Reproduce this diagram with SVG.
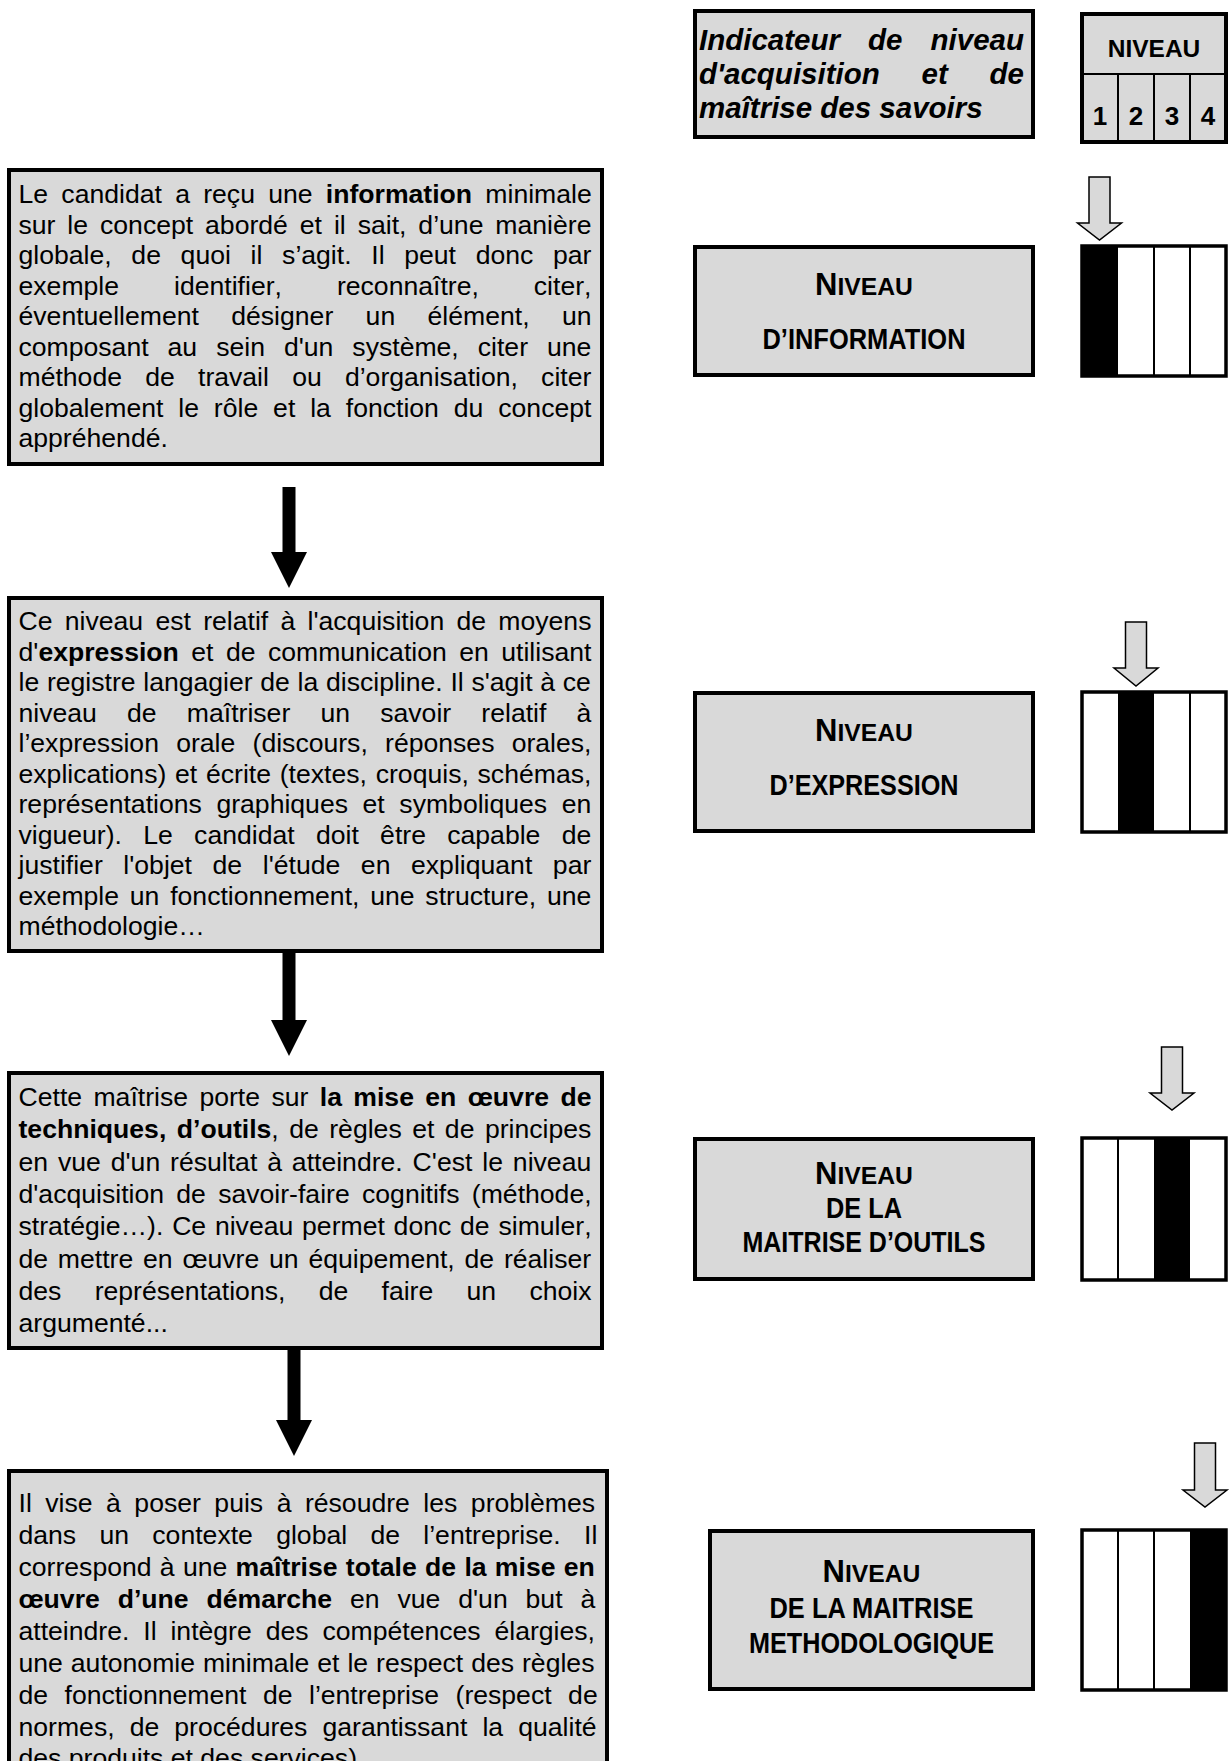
<svg xmlns="http://www.w3.org/2000/svg" width="1230" height="1761" viewBox="0 0 1230 1761">
<style>
.box{fill:#d9d9d9;stroke:#000;stroke-width:4}
.t{font-family:"Liberation Sans",Arial,sans-serif;font-size:26.6px;fill:#000;font-kerning:none}
.b{font-weight:bold}
.ind{font-family:"Liberation Sans",Arial,sans-serif;font-size:29.5px;font-weight:bold;font-style:italic;font-kerning:none}
.lv{font-family:"Liberation Sans",Arial,sans-serif;font-size:29px;font-weight:bold;text-anchor:middle}
.sc{font-size:24.7px}
.big{font-size:31px}
.hd{font-family:"Liberation Sans",Arial,sans-serif;font-size:24.5px;font-weight:bold;text-anchor:middle}
.dg{font-size:26px}
.bar{fill:#fff}
.frame{fill:none;stroke:#000;stroke-width:3.5}
.div{stroke:#000;stroke-width:2}
.blk{fill:#000}
.ga{fill:#d9d9d9;stroke:#000;stroke-width:1.5}
</style>

<g id="indicator">
<rect class="box" x="695" y="11" width="338" height="126"/>
<text class="ind" x="699" y="50" style="word-spacing:19.9px">Indicateur de niveau</text>
<text class="ind" x="699" y="84" style="word-spacing:33.6px">d'acquisition et de</text>
<text class="ind" x="699" y="118">maîtrise des savoirs</text>
</g>

<g id="niveau-table">
<rect class="box" x="1082" y="14" width="144" height="128"/>
<line class="div" x1="1082" y1="74" x2="1226" y2="74"/>
<line class="div" x1="1118" y1="74" x2="1118" y2="142"/>
<line class="div" x1="1154" y1="74" x2="1154" y2="142"/>
<line class="div" x1="1190" y1="74" x2="1190" y2="142"/>
<text class="hd" x="1154" y="57">NIVEAU</text>
<text class="hd dg" x="1100" y="125">1</text>
<text class="hd dg" x="1136" y="125">2</text>
<text class="hd dg" x="1172" y="125">3</text>
<text class="hd dg" x="1208" y="125">4</text>
</g>

<g id="desc1">
<rect class="box" x="9" y="170" width="593" height="294"/>
<text class="t" x="18.5" y="203" style="word-spacing:5.87px">Le candidat a reçu une <tspan class="b">information</tspan> minimale</text>
<text class="t" x="18.5" y="233.5" style="word-spacing:4.54px">sur le concept abordé et il sait, d’une manière</text>
<text class="t" x="18.5" y="264" style="word-spacing:12.3px">globale, de quoi il s’agit. Il peut donc par</text>
<text class="t" x="18.5" y="294.5" style="word-spacing:47.6px">exemple identifier, reconnaître, citer,</text>
<text class="t" x="18.5" y="325" style="word-spacing:24.97px">éventuellement désigner un élément, un</text>
<text class="t" x="18.5" y="355.5" style="word-spacing:11.6px">composant au sein d'un système, citer une</text>
<text class="t" x="18.5" y="386" style="word-spacing:15.82px">méthode de travail ou d’organisation, citer</text>
<text class="t" x="18.5" y="416.5" style="word-spacing:7.5px">globalement le rôle et la fonction du concept</text>
<text class="t" x="18.5" y="447">appréhendé.</text>
</g>

<g id="desc2">
<rect class="box" x="9" y="598" width="593" height="353"/>
<text class="t" x="18.5" y="630" style="word-spacing:4.89px">Ce niveau est relatif à l'acquisition de moyens</text>
<text class="t" x="18.5" y="660.5" style="word-spacing:5.06px">d'<tspan class="b">expression</tspan> et de communication en utilisant</text>
<text class="t" x="18.5" y="691" style="word-spacing:0.29px">le registre langagier de la discipline. Il s'agit à ce</text>
<text class="t" x="18.5" y="721.5" style="word-spacing:22.8px">niveau de maîtriser un savoir relatif à</text>
<text class="t" x="18.5" y="752" style="word-spacing:9.85px">l’expression orale (discours, réponses orales,</text>
<text class="t" x="18.5" y="782.5" style="word-spacing:1.36px">explications) et écrite (textes, croquis, schémas,</text>
<text class="t" x="18.5" y="813" style="word-spacing:7.2px">représentations graphiques et symboliques en</text>
<text class="t" x="18.5" y="843.5" style="word-spacing:13.9px">vigueur). Le candidat doit être capable de</text>
<text class="t" x="18.5" y="874" style="word-spacing:13.2px">justifier l'objet de l'étude en expliquant par</text>
<text class="t" x="18.5" y="904.5" style="word-spacing:3.4px">exemple un fonctionnement, une structure, une</text>
<text class="t" x="18.5" y="935">méthodologie…</text>
</g>

<g id="desc3">
<rect class="box" x="9" y="1073" width="593" height="275"/>
<text class="t" x="18.5" y="1106" style="word-spacing:4.0px">Cette maîtrise porte sur <tspan class="b">la mise en œuvre de</tspan></text>
<text class="t" x="18.5" y="1138.3" style="word-spacing:3.1px"><tspan class="b">techniques, d’outils</tspan>, de règles et de principes</text>
<text class="t" x="18.5" y="1170.6" style="word-spacing:2.5px">en vue d'un résultat à atteindre. C'est le niveau</text>
<text class="t" x="18.5" y="1202.9" style="word-spacing:4.9px">d'acquisition de savoir-faire cognitifs (méthode,</text>
<text class="t" x="18.5" y="1235.2" style="word-spacing:1.4px">stratégie…). Ce niveau permet donc de simuler,</text>
<text class="t" x="18.5" y="1267.5" style="word-spacing:2.4px">de mettre en œuvre un équipement, de réaliser</text>
<text class="t" x="18.5" y="1299.8" style="word-spacing:25.9px">des représentations, de faire un choix</text>
<text class="t" x="18.5" y="1332.1">argumenté...</text>
</g>

<g id="desc4">
<rect class="box" x="9" y="1471" width="598" height="400"/>
<text class="t" x="18.5" y="1512" style="word-spacing:6.1px">Il vise à poser puis à résoudre les problèmes</text>
<text class="t" x="18.5" y="1544" style="word-spacing:15.9px">dans un contexte global de l’entreprise. Il</text>
<text class="t" x="18.5" y="1576" style="word-spacing:0.9px">correspond à une <tspan class="b">maîtrise totale de la mise en</tspan></text>
<text class="t" x="18.5" y="1608" style="word-spacing:10.5px"><tspan class="b">œuvre d’une démarche</tspan> en vue d'un but à</text>
<text class="t" x="18.5" y="1640" style="word-spacing:6.5px">atteindre. Il intègre des compétences élargies,</text>
<text class="t" x="18.5" y="1672" style="word-spacing:0.55px">une autonomie minimale et le respect des règles</text>
<text class="t" x="18.5" y="1704" style="word-spacing:9.1px">de fonctionnement de l’entreprise (respect de</text>
<text class="t" x="18.5" y="1736" style="word-spacing:7.7px">normes, de procédures garantissant la qualité</text>
<text class="t" x="18.5" y="1767">des produits et des services).</text>
</g>

<g id="level1">
<rect class="box" x="695" y="247" width="338" height="128"/>
<text class="lv" x="864" y="295"><tspan class="big">N</tspan><tspan class="sc">IVEAU</tspan></text>
<text class="lv" x="864" y="349" textLength="203" lengthAdjust="spacingAndGlyphs">D’INFORMATION</text>
</g>
<g id="level2">
<rect class="box" x="695" y="693" width="338" height="138"/>
<text class="lv" x="864" y="741"><tspan class="big">N</tspan><tspan class="sc">IVEAU</tspan></text>
<text class="lv" x="864" y="795" textLength="189" lengthAdjust="spacingAndGlyphs">D’EXPRESSION</text>
</g>
<g id="level3">
<rect class="box" x="695" y="1139" width="338" height="140"/>
<text class="lv" x="864" y="1184"><tspan class="big">N</tspan><tspan class="sc">IVEAU</tspan></text>
<text class="lv" x="864" y="1218" textLength="76" lengthAdjust="spacingAndGlyphs">DE LA</text>
<text class="lv" x="864" y="1252" textLength="243" lengthAdjust="spacingAndGlyphs">MAITRISE D’OUTILS</text>
</g>
<g id="level4">
<rect class="box" x="710" y="1531" width="323" height="158"/>
<text class="lv" x="871.5" y="1582"><tspan class="big">N</tspan><tspan class="sc">IVEAU</tspan></text>
<text class="lv" x="871.5" y="1618" textLength="204" lengthAdjust="spacingAndGlyphs">DE LA MAITRISE</text>
<text class="lv" x="871.5" y="1653" textLength="245" lengthAdjust="spacingAndGlyphs">METHODOLOGIQUE</text>
</g>

<g id="bar1">
<rect class="bar" x="1082" y="246" width="144" height="130"/>
<rect class="blk" x="1082" y="246" width="36" height="130"/>
<line class="div" x1="1154" y1="246" x2="1154" y2="376"/>
<line class="div" x1="1190" y1="246" x2="1190" y2="376"/>
<rect class="frame" x="1082" y="246" width="144" height="130"/>
</g>
<g id="bar2">
<rect class="bar" x="1082" y="692" width="144" height="140"/>
<rect class="blk" x="1118" y="692" width="36" height="140"/>
<line class="div" x1="1190" y1="692" x2="1190" y2="832"/>
<rect class="frame" x="1082" y="692" width="144" height="140"/>
</g>
<g id="bar3">
<rect class="bar" x="1082" y="1138" width="144" height="142"/>
<rect class="blk" x="1154" y="1138" width="36" height="142"/>
<line class="div" x1="1118" y1="1138" x2="1118" y2="1280"/>
<rect class="frame" x="1082" y="1138" width="144" height="142"/>
</g>
<g id="bar4">
<rect class="bar" x="1082" y="1530" width="144" height="160"/>
<rect class="blk" x="1190" y="1530" width="36" height="160"/>
<line class="div" x1="1118" y1="1530" x2="1118" y2="1690"/>
<line class="div" x1="1154" y1="1530" x2="1154" y2="1690"/>
<rect class="frame" x="1082" y="1530" width="144" height="160"/>
</g>

<g id="connectors">
<polygon class="blk" points="282.5,487 295.5,487 295.5,552 307,552 289,588 271,552 282.5,552"/>
<polygon class="blk" points="282.5,951 295.5,951 295.5,1020 307,1020 289,1056 271,1020 282.5,1020"/>
<polygon class="blk" points="287.5,1346 300.5,1346 300.5,1420 312,1420 294,1456 276,1420 287.5,1420"/>
<polygon class="ga" points="1089,177 1110,177 1110,223 1121.5,223 1099.5,240 1077.5,223 1089,223"/>
<polygon class="ga" points="1125.5,622 1146.5,622 1146.5,668 1158,668 1136,686 1114,668 1125.5,668"/>
<polygon class="ga" points="1161.5,1047 1182.5,1047 1182.5,1093 1194,1093 1172,1110 1150,1093 1161.5,1093"/>
<polygon class="ga" points="1194.5,1443 1215.5,1443 1215.5,1490 1227,1490 1205,1507 1183,1490 1194.5,1490"/>
</g>
</svg>
